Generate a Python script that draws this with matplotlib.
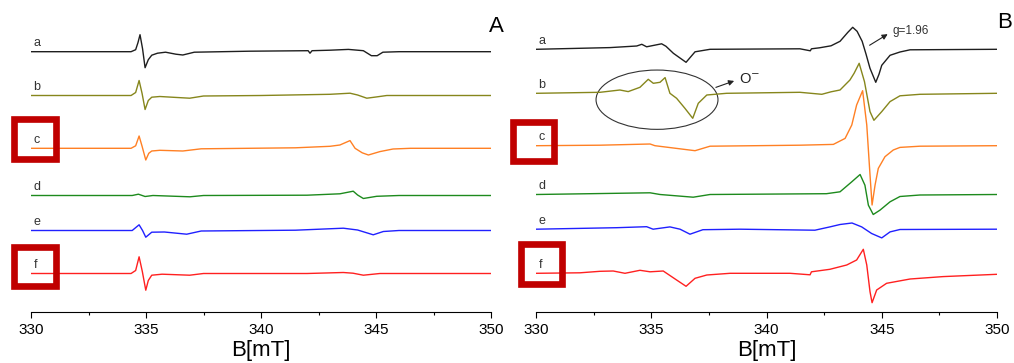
import matplotlib
matplotlib.use('Agg')
import matplotlib.pyplot as plt
from matplotlib.patches import Ellipse, Rectangle

plt.rcParams['font.family'] = ['Liberation Sans', 'DejaVu Sans']

# ---- data (magnetic field in mT, EPR signal in a.u. relative to each baseline) ----
labels = ['a', 'b', 'c', 'd', 'e', 'f']
colors = ['#1e1e1e', '#86861c', '#ff8024', '#1d8a1d', '#2020ff', '#ff2020']

# panel A
A_offsets = [260.3, 216.5, 163.7, 116.5, 81.5, 38.5]
A_a_field = [330, 334.35, 334.55, 334.65, 334.74, 334.85, 334.96, 335.10, 335.25, 335.50, 335.85, 336.30, 336.60,
             337.10, 339.50, 342.05, 342.13, 342.22, 343.00, 343.80, 344.45, 344.80, 345.05, 345.30, 346.00, 350]
A_a_signal = [0, 0, 2, 9, 17, 3, -16, -8, -3.5, -1.5, -0.5, -2.5, -3.3,
              -0.5, 0.5, 1, -1.5, 1, 1.5, 2.3, 1, -4, -4, -0.5, 0, 0]
A_b_field = [330, 334.35, 334.55, 334.70, 334.83, 334.96, 335.10, 335.25, 335.60, 336.20, 336.90, 337.50, 340.0,
             343.00, 343.87, 344.20, 344.60, 345.00, 345.47, 350]
A_b_signal = [0, 0, 3, 15, 2, -14, -5, -1.7, -1.0, -1.8, -2.7, -0.5, 0, 1.2, 2.3, 0.5, -2.7, -1.5, 0, 0]
A_c_field = [330, 334.35, 334.55, 334.70, 334.83, 334.99, 335.12, 335.25, 335.60, 336.60, 337.40, 341.50,
             343.00, 343.43, 343.87, 344.09, 344.40, 344.67, 345.17, 345.74, 346.5, 350]
A_c_signal = [0, 0, 2.5, 12.3, 2, -11.7, -5, -2.7, -2, -2.7, -0.5, 0.5, 2, 3.3, 7.7, 0, -4.5, -6.7, -3.3, -0.7, 0, 0]
A_d_field = [330, 334.4, 334.67, 334.96, 335.3, 336.91, 337.5, 342.0, 343.43, 344.01, 344.20, 344.45, 345.03, 346.0, 350]
A_d_signal = [0, 0, 1.3, -1, 0, -1.3, 0, 0.3, 1.7, 4.3, 0.5, -3, -0.8, 0, 0]
A_e_field = [330, 334.40, 334.70, 334.85, 334.99, 335.25, 335.80, 336.77, 337.40, 341.5, 343.58, 344.20,
             344.88, 345.32, 346.0, 350]
A_e_signal = [0, 0, 5.7, 0, -6.7, -1.7, -1.5, -3.7, -0.5, 0.3, 2.3, 0.5, -4.3, -1, 0, 0]
A_f_field = [330, 334.35, 334.55, 334.70, 334.84, 334.99, 335.10, 335.25, 335.7, 336.9, 337.5, 342.0,
             343.58, 344.00, 344.45, 345.17, 350]
A_f_signal = [0, 0, 3, 16.7, 2, -16.7, -7, -1.7, -0.7, -1.7, 0, 0, 1, 0.3, -1.7, 0, 0]

# panel B
B_offsets = [262.7, 218.7, 166.3, 117.5, 82.8, 38.7]
B_a_field = [330, 333.21, 334.37, 334.59, 334.80, 335.45, 335.64, 335.96, 336.51, 336.90, 337.55, 341.45, 341.90,
             341.95, 342.30, 342.80, 343.19, 343.53, 343.74, 343.93, 344.15, 344.32, 344.49, 344.74, 344.88, 345.00,
             345.36, 345.79, 346.23, 350]
B_a_signal = [0, 1.7, 3.3, 5, 2.5, 5.5, 3, -4, -13, -2.5, 0, 0.5, -1.5,
              0.5, 1.5, 3.5, 8, 17, 22, 18, 8, -5, -19, -33, -25, -16,
              -6, -2.7, -0.5, 0]
B_b_field = [330, 332.78, 333.64, 334.00, 334.51, 334.87, 335.09, 335.38, 335.60, 335.81, 336.10, 336.46, 336.80,
             337.04, 337.41, 338.27, 341.45, 342.40, 342.80, 343.19, 343.62, 343.80, 344.02, 344.25, 344.49, 344.66,
             345.00, 345.36, 345.79, 346.66, 350]
B_b_signal = [0, 1, 3.3, 1.7, 6, 14, 10, 11, 15.7, 0, -5, -15, -25,
              -10, -1.7, 0, 1, -1, 1.5, 3.3, 13.3, 20, 30, 11.7, -18.3, -27,
              -18.3, -8.3, -2.5, -1, 0]
B_c_field = [330, 332.78, 334.95, 335.16, 336.90, 337.55, 341.45, 342.90, 343.41, 343.70, 343.91, 344.17,
             344.35, 344.49, 344.58, 344.71, 344.85, 345.14, 345.50, 345.79, 346.66, 350]
B_c_signal = [0, 0.5, 1.7, 0, -5, -0.5, 0.5, 1.3, 7.3, 20.7, 40.7, 55,
              20.7, -29, -59.3, -39.3, -22.7, -11, -4.3, -1.7, -0.5, 0]
B_d_field = [330, 334.95, 335.38, 336.82, 337.55, 342.60, 343.19, 343.70, 344.06, 344.27, 344.42, 344.63, 344.92,
             345.36, 345.79, 346.66, 350]
B_d_signal = [0, 1.7, 0, -2.7, 0, 0.8, 2.7, 12.7, 20, 9.3, -10.7, -20, -15.7, -7.3, -2, -0.5, 0]
B_e_field = [330, 333.50, 334.80, 335.08, 335.81, 336.25, 336.68, 337.24, 338.85, 342.10, 342.75, 343.19,
             343.71, 344.13, 344.56, 345.00, 345.36, 345.79, 350]
B_e_signal = [0, 1.5, 2.5, 0, 2.3, 0, -5, -0.5, 0, -1, 2.3, 4.7, 6.2, 2.3, -4.3, -8.7, -2.7, -0.3, 0]
B_f_field = [330, 331.91, 332.78, 333.35, 333.86, 334.51, 334.95, 335.52, 336.10, 336.51, 336.90, 337.41,
             338.42, 341.02, 341.89, 341.95, 342.75, 343.48, 343.91, 344.20, 344.35, 344.49, 344.58, 344.78,
             345.21, 346.23, 347.66, 350]
B_f_signal = [0, 0.5, 2, 2.3, 0, 3, 1.5, 2.3, -6.7, -13, -5, -1.7,
              0, 0, -1.5, 1.5, 4, 8.3, 13.3, 24, 8.3, -18.3, -29.4, -16.7,
              -10, -5.7, -3.3, -1]

xticks = [330, 335, 340, 345, 350]

A_traces = [(A_a_field, A_a_signal), (A_b_field, A_b_signal), (A_c_field, A_c_signal),
            (A_d_field, A_d_signal), (A_e_field, A_e_signal), (A_f_field, A_f_signal)]
B_traces = [(B_a_field, B_a_signal), (B_b_field, B_b_signal), (B_c_field, B_c_signal),
            (B_d_field, B_d_signal), (B_e_field, B_e_signal), (B_f_field, B_f_signal)]

W, H = 1014, 363
fig = plt.figure(figsize=(W / 100, H / 100), dpi=100)


def fx(px):
    return px / W


def fy(py):
    return 1 - py / H


ax_A = fig.add_axes([fx(31), fy(312), 460 / W, 312 / H])
ax_B = fig.add_axes([fx(536), fy(312), 461 / W, 312 / H])

for ax, traces, offsets in [(ax_A, A_traces, A_offsets), (ax_B, B_traces, B_offsets)]:
    for (field, signal), off, col, lab in zip(traces, offsets, colors, labels):
        ax.plot(field, [s + off for s in signal], color=col, lw=1.0)
        ax.text(330.1, off + 8.5, lab, fontsize=9, color='#333333', ha='left', va='center')
    ax.set_xlim(330, 350)
    ax.set_ylim(0, 312)
    for s in ['left', 'right', 'top']:
        ax.spines[s].set_visible(False)
    ax.spines['bottom'].set_linewidth(0.8)
    ax.set_yticks([])
    ax.set_xticks(xticks)
    ax.set_xticks([332.5, 337.5, 342.5, 347.5], minor=True)
    ax.tick_params(axis='x', which='major', direction='out', length=4.2, width=0.8, labelsize=11, pad=4)
    ax.tick_params(axis='x', which='minor', direction='out', length=2.4, width=0.8)
    ax.set_xlabel('B[mT]', fontsize=16, labelpad=2)
    ax.patch.set_alpha(0)

# annotations on panel B
ax_B.add_patch(Ellipse((335.25, 212.3), 5.29, 59.3, fill=False, ec='#333333', lw=0.8))
ax_B.annotate('', xy=(338.71, 232), xytext=(337.69, 223.7),
              arrowprops=dict(arrowstyle='-|>', color='#222222', lw=0.8, mutation_scale=8))
ax_B.text(338.8, 232.5, 'O$^{-}$', fontsize=10.5, color='#222222', ha='left', va='center')
ax_B.annotate('', xy=(345.36, 279.3), xytext=(344.37, 265.3),
              arrowprops=dict(arrowstyle='-|>', color='#222222', lw=0.8, mutation_scale=8))
ax_B.text(345.45, 281, 'g=1.96', fontsize=8.5, color='#333333', ha='left', va='center')

# panel letters
fig.text(fx(496), fy(26), 'A', fontsize=16, ha='center', va='center')
fig.text(fx(1005), fy(23), 'B', fontsize=16, ha='center', va='center')

# red frames around labels c and f
frames = [(14.3, 119.3, 55.7, 159.0), (14.3, 246.7, 55.7, 286.0),
          (513.3, 121.7, 554.3, 161.0), (520.7, 244.0, 562.3, 284.0)]
for x0, y0, x1, y1 in frames:
    fig.add_artist(Rectangle((fx(x0), fy(y1)), (x1 - x0) / W, (y1 - y0) / H, transform=fig.transFigure,
                             fill=False, ec='#c00000', lw=4.8, zorder=5, joinstyle='miter'))

fig.savefig('out.png', dpi=100)
